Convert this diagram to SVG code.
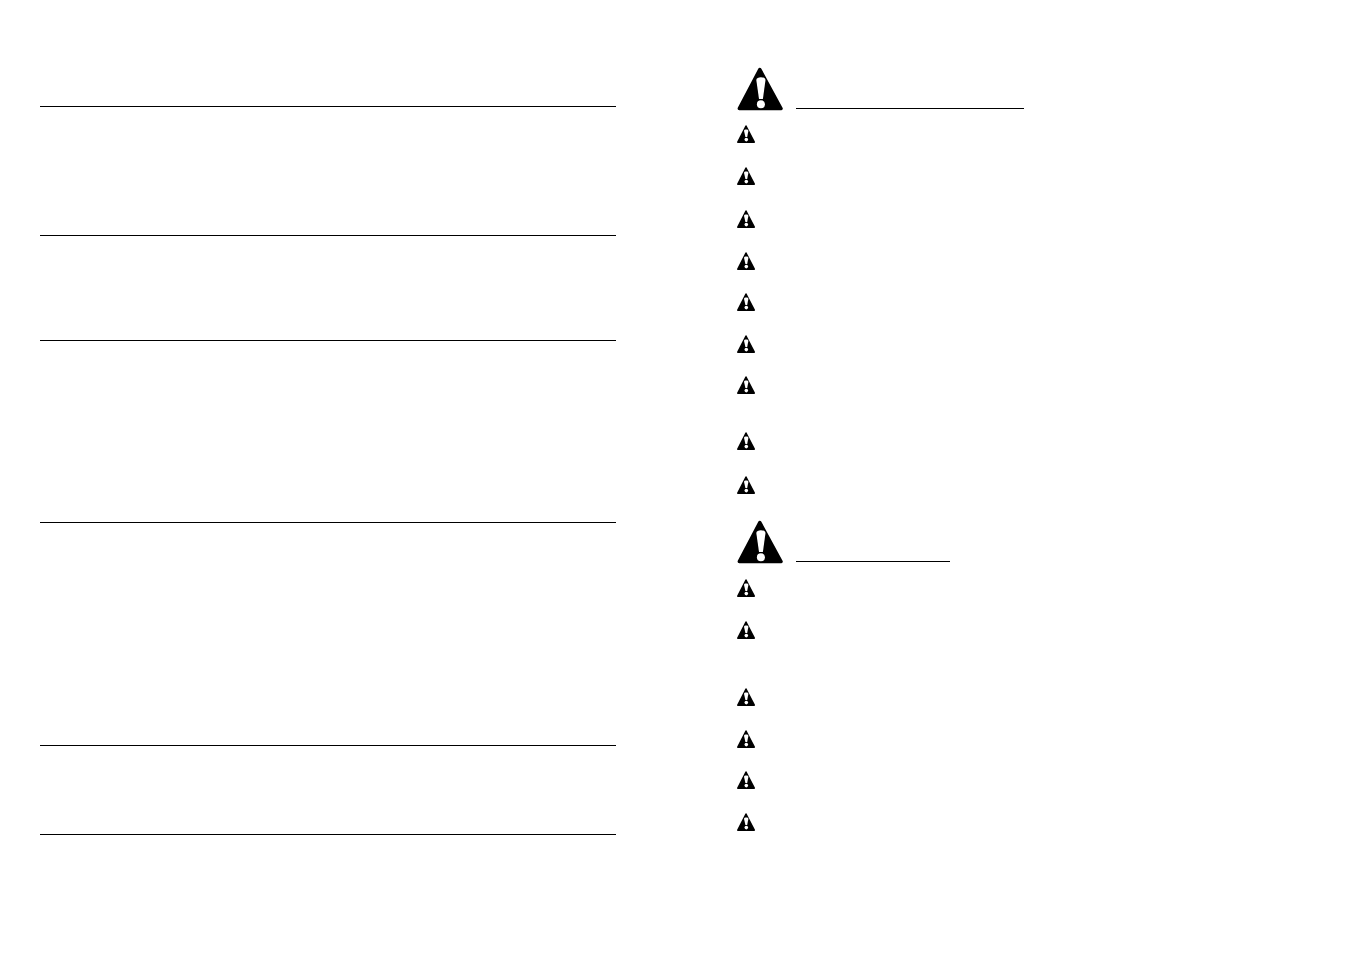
<svg xmlns="http://www.w3.org/2000/svg" width="1352" height="954" viewBox="0 0 1352 954">
<style>
.rule{stroke:#000;stroke-width:1;fill:none}
.tri{fill:#000;stroke:#000;stroke-linejoin:round}
.mark{fill:#fff}
</style>
<defs>
<g id="big">
<path class="tri" stroke-width="3.500" d="M22.300 2.500 L43.500 41.500 H1.800 Z"/>
<path class="mark" d="M18.800 13 C18.800 9.300 28 9.300 28 13 L25.400 32 H21.500 Z"/>
<circle class="mark" cx="23.400" cy="37.300" r="4"/>
</g>
<g id="small">
<path class="tri" stroke-width="1.500" d="M9 1 L17.300 17.200 H0.800 Z"/>
<path class="mark" d="M7 5.800 C7 4.200 11.400 4.200 11.400 5.800 L10.200 12 H8.400 Z"/>
<circle class="mark" cx="9.300" cy="14.600" r="1.800"/>
</g>
</defs>
<rect width="1352" height="954" fill="#fff"/>
<g id="rules-left">
<line class="rule" x1="40" x2="616" y1="106.500" y2="106.500"/>
<line class="rule" x1="40" x2="616" y1="235.500" y2="235.500"/>
<line class="rule" x1="40" x2="616" y1="340.500" y2="340.500"/>
<line class="rule" x1="40" x2="616" y1="522.500" y2="522.500"/>
<line class="rule" x1="40" x2="616" y1="745.500" y2="745.500"/>
<line class="rule" x1="40" x2="616" y1="834.500" y2="834.500"/>
</g>
<g id="heading-1">
<use href="#big" x="737.500" y="67"/>
<line class="rule" x1="796" x2="1024" y1="108.500" y2="108.500"/>
</g>
<g id="list-1">
<use href="#small" x="737" y="125"/>
<use href="#small" x="737" y="167"/>
<use href="#small" x="737" y="210"/>
<use href="#small" x="737" y="252"/>
<use href="#small" x="737" y="293"/>
<use href="#small" x="737" y="335"/>
<use href="#small" x="737" y="376"/>
<use href="#small" x="737" y="432"/>
<use href="#small" x="737" y="476"/>
</g>
<g id="heading-2">
<use href="#big" x="737.500" y="520"/>
<line class="rule" x1="796" x2="950" y1="561.500" y2="561.500"/>
</g>
<g id="list-2">
<use href="#small" x="737" y="579"/>
<use href="#small" x="737" y="621"/>
<use href="#small" x="737" y="688"/>
<use href="#small" x="737" y="730"/>
<use href="#small" x="737" y="771"/>
<use href="#small" x="737" y="813"/>
</g>
</svg>
